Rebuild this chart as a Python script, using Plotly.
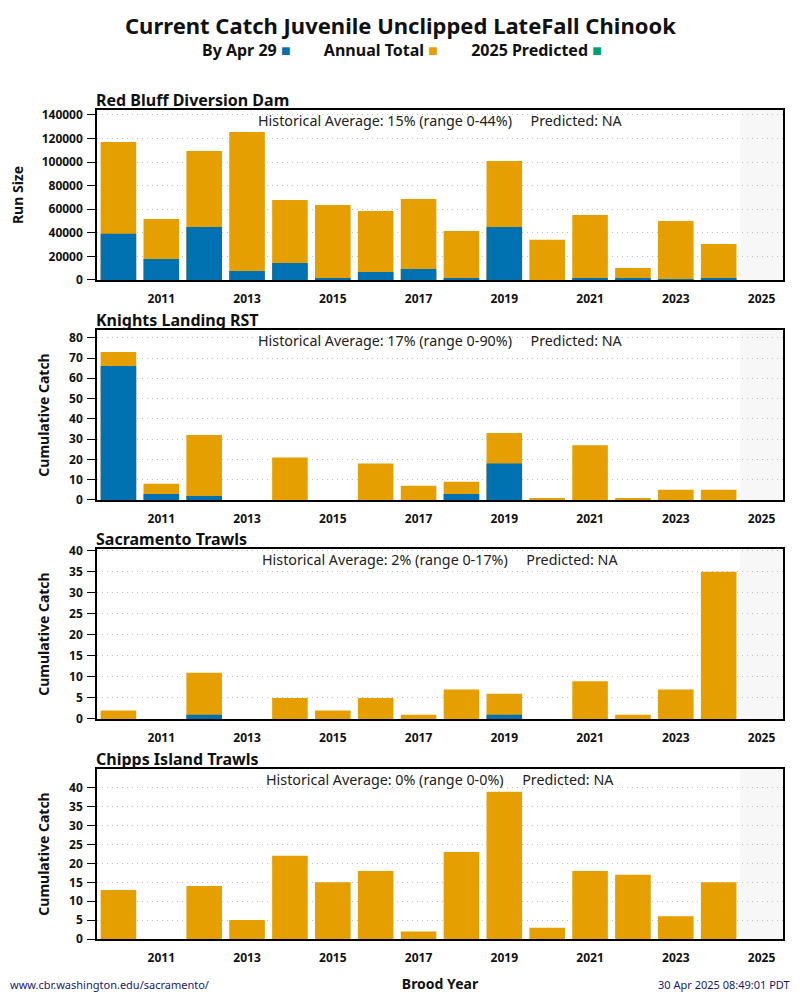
import plotly.graph_objects as go
from plotly.subplots import make_subplots

years = list(range(2010, 2025))

# Red Bluff Diversion Dam (run size)
rbdd_total = [117100, 51800, 109500, 125600, 67900, 63600, 58500, 68700,
              41600, 100900, 34000, 55100, 10200, 50000, 30500]
rbdd_by_date = [39300, 17800, 45000, 7600, 14400, 1700, 6800, 9300,
                850, 45000, 0, 1700, 850, 700, 1700]

# Knights Landing RST
klr_total = [73, 8, 32, 0, 21, 0, 18, 7, 9, 33, 1, 27, 1, 5, 5]
klr_by_date = [66, 3, 2, 0, 0, 0, 0, 0, 3, 18, 0, 0, 0, 0, 0]

# Sacramento Trawls
sac_total = [2, 0, 11, 0, 5, 2, 5, 1, 7, 6, 0, 9, 1, 7, 35]
sac_by_date = [0, 0, 1, 0, 0, 0, 0, 0, 0, 1, 0, 0, 0, 0, 0]

# Chipps Island Trawls
chipps_total = [13, 0, 14, 5, 22, 15, 18, 2, 23, 39, 3, 18, 17, 6, 15]
chipps_by_date = [0] * 15

panels = [
    ("Red Bluff Diversion Dam", "Run Size", rbdd_total, rbdd_by_date,
     "Historical Average: 15% (range 0-44%)     Predicted: NA", 144200, list(range(0, 140001, 20000))),
    ("Knights Landing RST", "Cumulative Catch", klr_total, klr_by_date,
     "Historical Average: 17% (range 0-90%)     Predicted: NA", 83.8, list(range(0, 81, 10))),
    ("Sacramento Trawls", "Cumulative Catch", sac_total, sac_by_date,
     "Historical Average: 2% (range 0-17%)     Predicted: NA", 40.4, list(range(0, 41, 5))),
    ("Chipps Island Trawls", "Cumulative Catch", chipps_total, chipps_by_date,
     "Historical Average: 0% (range 0-0%)     Predicted: NA", 45.0, list(range(0, 41, 5))),
]

BLUE = "#0072B2"
ORANGE = "#E69F00"
GREEN = "#009E73"
FONT = "Noto Sans"

# page body adds an 8px offset, so the figure is 8px smaller and shifted
domains = [(0.795, 1.0), (0.5296, 0.7346), (0.2654, 0.4704), (0.0, 0.2051)]

fig = make_subplots(rows=4, cols=1)
shapes = []
annotations = []

for i, (name, ytitle, total, by_date, note, ymax, yticks) in enumerate(panels):
    r = i + 1
    fig.add_trace(go.Bar(x=years, y=total, marker_color=ORANGE, width=0.83,
                         marker_line_width=0, showlegend=False), row=r, col=1)
    fig.add_trace(go.Bar(x=years, y=by_date, marker_color=BLUE, width=0.83,
                         marker_line_width=0, showlegend=False), row=r, col=1)
    sfx = "" if r == 1 else str(r)
    fig.layout["yaxis" + sfx].update(
        domain=domains[i], range=[0, ymax], tickvals=yticks, tickformat="d",
        showgrid=True, gridcolor="#c0c0c0", griddash="1px,4px", gridwidth=1,
        ticks="outside", ticklen=8, tickcolor="black", ticklabelstandoff=2, automargin=False,
        showline=True, linecolor="black", linewidth=1.5, mirror=True,
        tickfont=dict(family=FONT, size=12, color="#111", weight="bold"),
        title=dict(text=ytitle, font=dict(family=FONT, size=14, color="#111", weight="bold"),
                   standoff=20 if r == 1 else 16),
        zeroline=False,
    )
    fig.layout["xaxis" + sfx].update(
        range=[2009.5, 2025.5], tickvals=list(range(2011, 2026, 2)),
        showgrid=False, ticks="outside", ticklen=7, tickcolor="rgba(0,0,0,0)",
        showline=True, linecolor="black", linewidth=1.5, mirror=True, automargin=False,
        tickfont=dict(family=FONT, size=12, color="#111", weight="bold"),
        zeroline=False,
    )
    shapes.append(dict(type="rect", xref="x" + sfx, yref="y" + sfx + " domain",
                       x0=2024.5, x1=2025.5, y0=0, y1=1, fillcolor="#f7f7f7",
                       line_width=0, layer="below"))
    annotations.append(dict(text=name, xref="x" + sfx + " domain", yref="y" + sfx + " domain",
                            x=0, y=1, xanchor="left", yanchor="bottom", showarrow=False,
                            xshift=-3, yshift=-3, font=dict(family=FONT, size=16, color="#111", weight="bold")))
    annotations.append(dict(text=note, xref="x" + sfx + " domain", yref="y" + sfx + " domain",
                            x=0.5, y=1, xanchor="center", yanchor="top", showarrow=False,
                            yshift=1, font=dict(family=FONT, size=14.3, color="#222")))

fig.layout.xaxis4.title = dict(text="Brood Year", font=dict(family=FONT, size=14, color="#111", weight="bold"),
                               standoff=14)

annotations += [
    dict(text="Current Catch Juvenile Unclipped LateFall Chinook", xref="paper", yref="paper",
         x=0.5, y=1, xshift=-40, yshift=102, showarrow=False, xanchor="center", yanchor="top",
         font=dict(family=FONT, size=22, color="#111", weight="bold")),
    dict(text=("By Apr 29 <span style='color:%s'>■</span>        Annual Total "
               "<span style='color:%s'>■</span>        2025 Predicted "
               "<span style='color:%s'>■</span>") % (BLUE, ORANGE, GREEN),
         xref="paper", yref="paper", x=0.5, y=1, xshift=-38, yshift=73, showarrow=False,
         xanchor="center", yanchor="top",
         font=dict(family=FONT, size=16, color="#111", weight="bold")),
    dict(text="www.cbr.washington.edu/sacramento/", xref="paper", yref="paper",
         x=0, y=0, xshift=-89, yshift=-55, xanchor="left", yanchor="bottom", showarrow=False,
         font=dict(family=FONT, size=11, color="#191970")),
    dict(text="30 Apr 2025 08:49:01 PDT", xref="paper", yref="paper",
         x=1, y=0, xshift=9, yshift=-55, xanchor="right", yanchor="bottom", showarrow=False,
         font=dict(family=FONT, size=11, color="#191970")),
]

fig.update_layout(
    width=792, height=992,
    margin=dict(l=89, r=17, t=102, b=61, autoexpand=False),
    barmode="overlay", bargap=0.17,
    plot_bgcolor="white", paper_bgcolor="white",
    shapes=shapes, annotations=annotations,
    showlegend=False,
)

fig.write_html("out.html")
